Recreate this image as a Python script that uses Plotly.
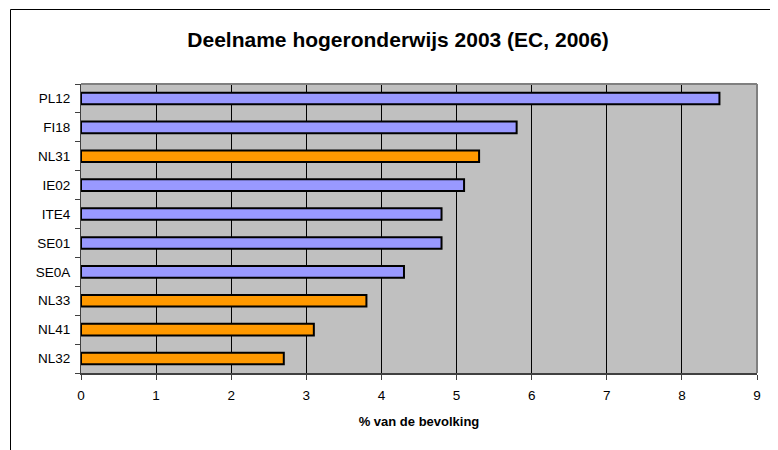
import plotly.graph_objects as go

regions = ["PL12", "FI18", "NL31", "IE02", "ITE4", "SE01", "SE0A", "NL33", "NL41", "NL32"]
values = [8.5, 5.8, 5.3, 5.1, 4.8, 4.8, 4.3, 3.8, 3.1, 2.7]
is_nl = [False, False, True, False, False, False, False, True, True, True]
title = "Deelname hogeronderwijs 2003 (EC, 2006)"
x_title = "% van de bevolking"

colors = ["#FF9900" if n else "#9999FF" for n in is_nl]

# page offset of the figure div (default body margin)
OX, OY = 8, 8
W, H = 778, 450
L, T = 81 - OX, 84 - OY
pw, ph = 676, 289
R, B = W - L - pw, H - T - ph

def px(x):  # page x -> paper
    return (x - OX - L) / pw

def py(y):  # page y -> paper
    return (T + ph - (y - OY)) / ph

fig = go.Figure(go.Bar(
    y=regions, x=values, orientation="h",
    marker=dict(color=colors, line=dict(color="#000000", width=2)),
    width=0.4,
))

font = "Liberation Sans, Arial, sans-serif"
frame = dict(color="#000000", width=1)
fig.update_layout(
    width=W, height=H,
    margin=dict(l=L, r=R, t=T, b=B, autoexpand=False),
    paper_bgcolor="white", plot_bgcolor="#C0C0C0",
    showlegend=False,
    font=dict(family=font, size=13, color="#000000"),
    title=dict(text="<b>%s</b>" % title, x=(398 - OX) / W, xanchor="center",
               y=1 - (40 - OY) / H, yanchor="middle",
               font=dict(size=21, family=font, color="#000000")),
    shapes=[
        dict(type="line", xref="paper", yref="paper", x0=px(10.5), x1=px(790), y0=py(9.5), y1=py(9.5),
             line=frame, layer="below"),
        dict(type="line", xref="paper", yref="paper", x0=px(10.5), x1=px(10.5), y0=py(9.5), y1=py(470),
             line=frame, layer="below"),
        dict(type="line", xref="paper", yref="paper", x0=0, x1=1, y0=1, y1=1,
             line=dict(color="#808080", width=2)),
        dict(type="line", xref="paper", yref="paper", x0=1, x1=1, y0=0, y1=1,
             line=dict(color="#808080", width=2)),
    ],
)
fig.update_xaxes(
    range=[0, 9], dtick=1, tick0=0,
    showgrid=True, gridcolor="#000000", gridwidth=1,
    zeroline=False,
    showline=True, linecolor="#404040", linewidth=2,
    ticks="outside", ticklen=5, tickcolor="#404040", tickwidth=1,
    tickfont=dict(size=13.5, family=font),
    ticklabelstandoff=4,
    title=dict(text="<b>%s</b>" % x_title, font=dict(size=13, family=font), standoff=15),
    fixedrange=True,
)
fig.update_yaxes(
    type="category", categoryorder="array", categoryarray=regions[::-1],
    showgrid=False, zeroline=False,
    showline=True, linecolor="#404040", linewidth=1,
    ticks="outside", ticklen=5, tickcolor="#404040", tickson="boundaries",
    tickfont=dict(size=13.5, family=font),
    ticklabelstandoff=7,
    fixedrange=True,
)

fig.write_html("out.html")
